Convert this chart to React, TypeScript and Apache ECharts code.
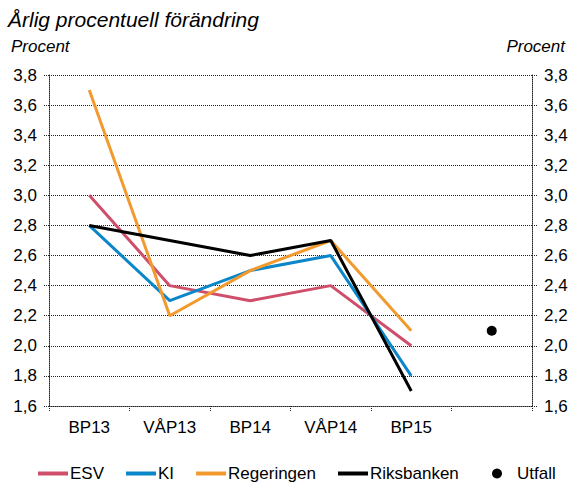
import React, { useEffect, useRef } from "react";
import * as echarts from "echarts";

const categories = ["BP13", "VÅP13", "BP14", "VÅP14", "BP15", ""];
const esv = [3.0, 2.4, 2.3, 2.4, 2.0, null];
const ki = [2.8, 2.3, 2.5, 2.6, 1.8, null];
const regeringen = [3.7, 2.2, 2.5, 2.7, 2.1, null];
const riksbanken = [2.8, 2.7, 2.6, 2.7, 1.7, null];
const utfall = [null, null, null, null, null, 2.1];

const FONT = "'Liberation Sans', Arial, sans-serif";
const fmt = (v: number) => v.toFixed(1).replace(".", ",");

export default function App() {
  const ref = useRef<HTMLDivElement>(null);
  useEffect(() => {
    document.body.style.margin = "0";
    const chart = echarts.init(ref.current!, null, { renderer: "svg" });
    const dotted = { type: [1, 1] as any, color: "#222", width: 1 };
    const yBase = {
      type: "value" as const,
      min: 1.6,
      max: 3.8,
      interval: 0.2,
      axisLine: { show: true, lineStyle: dotted },
      axisTick: { show: true, length: 5, lineStyle: dotted },
      axisLabel: {
        color: "#000",
        fontSize: 17,
        fontFamily: FONT,
        margin: 12,
        formatter: fmt,
      },
    };
    chart.setOption({
      animation: false,
      textStyle: { fontFamily: FONT },
      title: {
        text: "Årlig procentuell förändring",
        left: 3,
        top: 4,
        textStyle: {
          fontSize: 21,
          fontStyle: "italic",
          fontWeight: "normal",
          color: "#000",
          fontFamily: FONT,
        },
      },
      graphic: [
        {
          type: "text",
          left: 11,
          top: 38,
          style: { text: "Procent", font: `italic 17px ${FONT}`, fill: "#000" },
        },
        {
          type: "text",
          right: 9,
          top: 38,
          style: { text: "Procent", font: `italic 17px ${FONT}`, fill: "#000" },
        },
      ],
      grid: { left: 49, right: 42, top: 75, bottom: 79 },
      xAxis: {
        type: "category",
        data: categories,
        boundaryGap: true,
        axisLine: { show: true, lineStyle: dotted },
        axisTick: { show: true, length: 5, lineStyle: dotted },
        axisLabel: { color: "#000", fontSize: 17, fontFamily: FONT, margin: 13, interval: 0 },
      },
      yAxis: [
        {
          ...yBase,
          position: "left",
          splitLine: { show: true, lineStyle: dotted },
        },
        {
          ...yBase,
          position: "right",
          splitLine: { show: false },
        },
      ],
      legend: [
        {
          left: 33,
          top: 460,
          itemWidth: 30,
          itemHeight: 4,
          itemGap: 22,
          icon: "rect",
          textStyle: { color: "#000", fontSize: 17, fontFamily: FONT, padding: [0, 0, 0, -3] },
          data: ["ESV", "KI", "Regeringen", "Riksbanken"],
        },
        {
          left: 487,
          top: 460,
          itemWidth: 10,
          itemHeight: 10,
          icon: "circle",
          textStyle: { color: "#000", fontSize: 17, fontFamily: FONT, padding: [0, 0, 0, 10] },
          data: ["Utfall"],
        },
      ],
      series: [
        { name: "ESV", type: "line", data: esv, symbol: "none", lineStyle: { width: 3, color: "#cf4f6b" }, itemStyle: { color: "#cf4f6b" } },
        { name: "KI", type: "line", data: ki, symbol: "none", lineStyle: { width: 3, color: "#0b86c9" }, itemStyle: { color: "#0b86c9" } },
        { name: "Regeringen", type: "line", data: regeringen, symbol: "none", lineStyle: { width: 3, color: "#f29a2e" }, itemStyle: { color: "#f29a2e" } },
        { name: "Riksbanken", type: "line", data: riksbanken, symbol: "none", lineStyle: { width: 3, color: "#000" }, itemStyle: { color: "#000" } },
        { name: "Utfall", type: "scatter", data: utfall, symbolSize: 10, itemStyle: { color: "#000", opacity: 1 } },
      ],
    });
    return () => chart.dispose();
  }, []);
  return <div ref={ref} style={{ width: 574, height: 485 }} />;
}
